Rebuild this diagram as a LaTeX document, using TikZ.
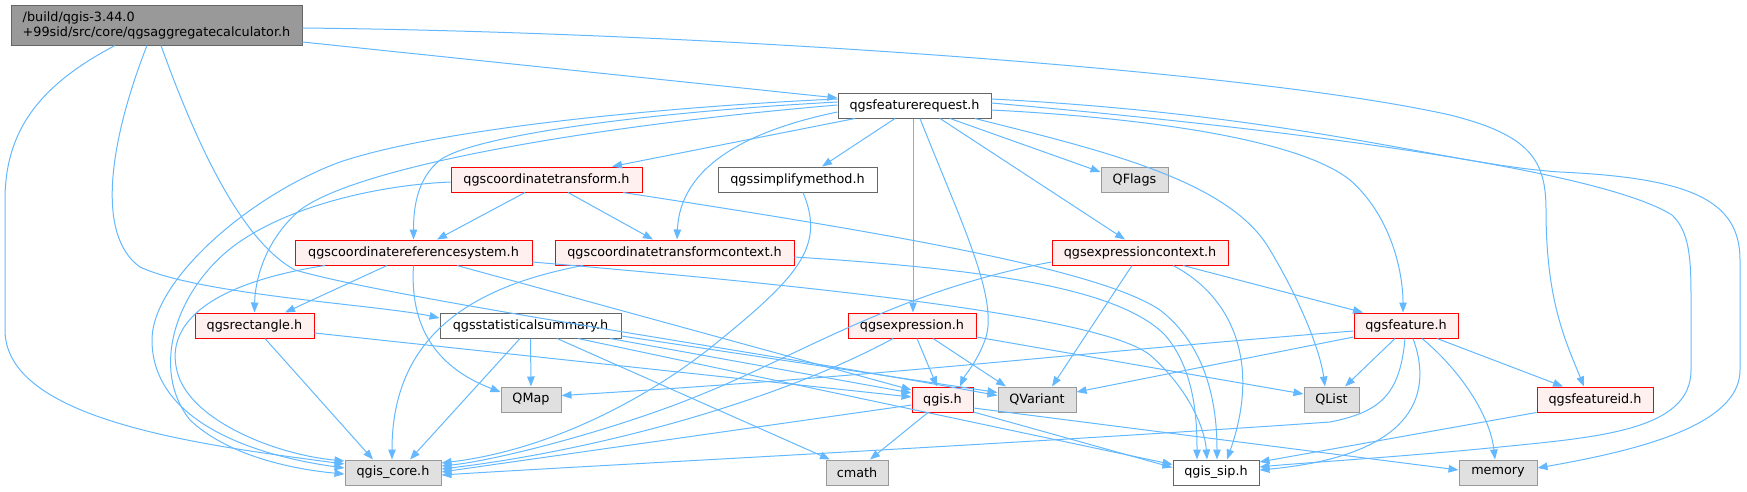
\documentclass[tikz,border=0pt]{standalone}
\usepackage{fontspec}
\setmainfont{DejaVu Sans}
\usetikzlibrary{arrows.meta}
\definecolor{edgec}{HTML}{63B8FF}
\definecolor{bordgray}{HTML}{666666}
\definecolor{extborder}{HTML}{999999}
\definecolor{extfill}{HTML}{E0E0E0}
\definecolor{redfill}{HTML}{FFF0F0}
\definecolor{rootfill}{HTML}{999999}
\tikzset{
  box/.style={draw, line width=1pt, minimum height=25pt, inner sep=0pt, font=\fontsize{12.8}{15}\selectfont, text=black},
  wnode/.style={box, draw=bordgray, fill=white},
  rnode/.style={box, draw=red, fill=redfill},
  gnode/.style={box, draw=extborder, fill=extfill},
  rootnode/.style={box, draw=bordgray, fill=rootfill, minimum height=40pt, align=left},
  edge/.style={draw=edgec, line width=1pt, -{Triangle[length=10pt,width=7.5pt]}}
}
\begin{document}
\begin{tikzpicture}[x=1pt,y=-1pt]
\useasboundingbox (0,0) rectangle (1747,491);
% nodes
\node[rootnode, minimum width=291pt] (root) at (156.5,25) {/build/qgis-3.44.0\\+99sid/src/core/qgsaggregatecalculator.h};
\node[wnode, minimum width=153pt] (freq) at (914.5,105.5) {qgsfeaturerequest.h};
\node[rnode, minimum width=191pt] (ctrans) at (546.5,179.5) {qgscoordinatetransform.h};
\node[wnode, minimum width=159pt] (simp) at (797.5,179.5) {qgssimplifymethod.h};
\node[gnode, minimum width=67pt] (qflags) at (1134.5,179.5) {QFlags};
\node[rnode, minimum width=237pt] (crs) at (413.5,252.5) {qgscoordinatereferencesystem.h};
\node[rnode, minimum width=239pt] (ctctx) at (674.5,252.5) {qgscoordinatetransformcontext.h};
\node[rnode, minimum width=176pt] (exctx) at (1140,252.5) {qgsexpressioncontext.h};
\node[rnode, minimum width=119pt] (rect) at (254.5,325.5) {qgsrectangle.h};
\node[wnode, minimum width=181pt] (stat) at (530.5,325.5) {qgsstatisticalsummary.h};
\node[rnode, minimum width=128pt] (expr) at (912,325.5) {qgsexpression.h};
\node[rnode, minimum width=104pt] (feat) at (1406,325.5) {qgsfeature.h};
\node[gnode, minimum width=60pt] (qmap) at (531,399.5) {QMap};
\node[rnode, minimum width=61pt] (qgis) at (942.5,399.5) {qgis.h};
\node[gnode, minimum width=78pt] (qvar) at (1037,399.5) {QVariant};
\node[gnode, minimum width=55pt] (qlist) at (1331.5,399.5) {QList};
\node[rnode, minimum width=116pt] (fid) at (1595,399.5) {qgsfeatureid.h};
\node[gnode, minimum width=96pt] (core) at (393,472.5) {qgis\_core.h};
\node[gnode, minimum width=62pt] (cmath) at (857,472.5) {cmath};
\node[wnode, minimum width=86pt] (sip) at (1216,472.5) {qgis\_sip.h};
\node[gnode, minimum width=78pt] (memory) at (1498,472.5) {memory};

% root edges
\draw[edge] ([yshift=-17pt]root.east) -- ([yshift=7.5pt]freq.west);
\draw[edge] ([yshift=-3pt]root.east) .. controls (700,32) and (1250,70) .. (1450,115) .. controls (1530,135) and (1546,160) .. (1546,210) .. controls (1546,300) and (1565,340) .. ([xshift=-11pt]fid.north);
\draw[edge] ([xshift=-41.5pt]root.south) .. controls (40,85) and (5,130) .. (5,200) -- (5,330) .. controls (5,420) and (200,445) .. ([yshift=8.5pt]core.west);
\draw[edge] ([xshift=-9.5pt]root.south) .. controls (110,140) and (95,235) .. (140,267) .. controls (200,295) and (380,305) .. ([yshift=7.5pt]stat.west);
\draw[edge] ([xshift=4.5pt]root.south) .. controls (195,140) and (240,240) .. (295,270) .. controls (400,300) and (750,350) .. ([yshift=4pt]qvar.west);

% qgsfeaturerequest.h edges
\draw[edge] ([yshift=6.5pt]freq.west) .. controls (700,105) and (450,125) .. (340,162) .. controls (250,195) and (152,280) .. (152,340) .. controls (152,420) and (250,455) .. ([yshift=4.5pt]core.west);
\draw[edge] ([yshift=3.5pt]freq.west) .. controls (650,112) and (475,135) .. (440,160) .. controls (418,178) and (413.5,205) .. (crs.north);
\draw[edge] ([yshift=0.5pt]freq.west) .. controls (600,125) and (360,165) .. (300,210) .. controls (265,240) and (255,280) .. (rect.north);
\draw[edge] ([xshift=-59.5pt]freq.south) -- ([xshift=65.5pt]ctrans.north);
\draw[edge] ([yshift=-6.5pt]freq.west) .. controls (750,130) and (680,165) .. ([xshift=2.5pt]ctctx.north);
\draw[edge] ([xshift=-19.5pt]freq.south) -- ([xshift=24.5pt]simp.north);
\draw[edge] ([xshift=-1.5pt]freq.south) -- ([xshift=1pt]expr.north);
\draw[edge] ([xshift=5.5pt]freq.south) .. controls (960,220) and (1000,300) .. (985,340) .. controls (977,362) and (965,375) .. ([xshift=17.5pt]qgis.north);
\draw[edge] ([xshift=35.5pt]freq.south) -- ([yshift=7.5pt]qflags.west);
\draw[edge] ([xshift=25.5pt]freq.south) -- ([xshift=-15pt]exctx.north);
\draw[edge] ([xshift=60.5pt]freq.south) .. controls (1100,150) and (1230,180) .. (1270,250) .. controls (1300,300) and (1320,350) .. ([xshift=-6.5pt]qlist.north);
\draw[edge] ([yshift=-4.5pt]freq.east) .. controls (1150,118) and (1300,140) .. (1350,180) .. controls (1390,215) and (1403,270) .. ([xshift=-3pt]feat.north);
\draw[edge] ([yshift=2.5pt]freq.east) .. controls (1300,130) and (1600,170) .. (1672,215) .. controls (1690,232) and (1691,260) .. (1691,300) -- (1691,370) .. controls (1691,430) and (1600,437) .. (1500,447) .. controls (1400,457) and (1300,463) .. ([yshift=5.5pt]sip.east);
\draw[edge] ([yshift=6.5pt]freq.east) .. controls (1300,115) and (1450,165) .. (1560,172) .. controls (1690,178) and (1740,200) .. (1740,260) -- (1740,370) .. controls (1740,425) and (1640,450) .. ([yshift=4.5pt]memory.east);

% qgscoordinatetransform.h edges
\draw[edge] ([xshift=-21.5pt]ctrans.south) -- ([xshift=23.5pt]crs.north);
\draw[edge] ([xshift=21.5pt]ctrans.south) -- ([xshift=-21.5pt]ctctx.north);
\draw[edge] ([yshift=-2.5pt]ctrans.west) .. controls (380,185) and (290,205) .. (235,245) .. controls (175,290) and (150,370) .. (190,420) .. controls (230,458) and (300,470) .. ([yshift=-1.5pt]core.west);
\draw[edge] ([xshift=76.5pt]ctrans.south) .. controls (900,235) and (1100,270) .. (1160,310) .. controls (1205,345) and (1217,400) .. ([xshift=1pt]sip.north);

% qgscoordinatereferencesystem.h edges
\draw[edge] ([xshift=-88.5pt]crs.south) .. controls (200,285) and (160,330) .. (180,380) .. controls (200,425) and (280,455) .. ([yshift=11.5pt]core.west);
\draw[edge] ([xshift=-26.5pt]crs.south) -- ([xshift=30.5pt]rect.north);
\draw[edge] (crs.south) .. controls (410,320) and (430,365) .. ([yshift=7.5pt]qmap.west);
\draw[edge] ([xshift=43.5pt]crs.south) -- ([yshift=9.5pt]qgis.west);
\draw[edge] ([yshift=-9.5pt]crs.east) .. controls (800,285) and (1100,315) .. (1150,355) .. controls (1190,390) and (1205,430) .. ([xshift=-9pt]sip.north);

% qgscoordinatetransformcontext.h edges
\draw[edge] ([xshift=-91.5pt]ctctx.south) .. controls (480,285) and (392,330) .. ([xshift=-1pt]core.north);
\draw[edge] ([yshift=-4.5pt]ctctx.east) .. controls (1000,270) and (1120,290) .. (1165,335) .. controls (1195,370) and (1197,420) .. ([xshift=-19pt]sip.north);

% qgsrectangle.h edges
\draw[edge] ([xshift=10.5pt]rect.south) -- ([xshift=-20pt]core.north);
\draw[edge] ([yshift=-7.5pt]rect.east) -- ([yshift=2.5pt]qgis.west);

% qgsstatisticalsummary.h edges
\draw[edge] ([xshift=-10.5pt]stat.south) -- ([xshift=17pt]core.north);
\draw[edge] (stat.south) -- (qmap.north);
\draw[edge] ([xshift=26.5pt]stat.south) -- ([xshift=-27pt]cmath.north);
\draw[edge] ([xshift=47.5pt]stat.south) -- ([yshift=8pt]sip.west);
\draw[edge] ([xshift=79.5pt]stat.south) -- ([yshift=6.5pt]qgis.west);
\draw[edge] ([yshift=-10.5pt]stat.east) -- ([yshift=7pt]qvar.west);

% qgsexpression.h edges
\draw[edge] ([xshift=-19pt]expr.south) .. controls (780,400) and (600,450) .. ([yshift=3.5pt]core.east);
\draw[edge] ([xshift=5pt]expr.south) -- ([xshift=-5.5pt]qgis.north);
\draw[edge] ([xshift=21pt]expr.south) -- ([xshift=-31pt]qvar.north);
\draw[edge] ([yshift=-11.5pt]expr.east) -- ([yshift=5.5pt]qlist.west);

% qgis.h edges
\draw[edge] ([yshift=-5.5pt]qgis.west) -- ([yshift=0.5pt]core.east);
\draw[edge] ([xshift=-14.5pt]qgis.south) -- ([xshift=13pt]cmath.north);
\draw[edge] ([yshift=-12.5pt]qgis.east) -- ([yshift=5pt]sip.west);
\draw[edge] ([yshift=-8.5pt]qgis.east) -- ([yshift=2.5pt]memory.west);

% qgsexpressioncontext.h edges
\draw[edge] ([yshift=-9.5pt]exctx.west) .. controls (900,290) and (800,355) .. (700,395) .. controls (620,428) and (500,460) .. ([yshift=6.5pt]core.east);
\draw[edge] ([xshift=-8pt]exctx.south) -- ([xshift=15pt]qvar.north);
\draw[edge] ([xshift=33pt]exctx.south) .. controls (1230,295) and (1262,360) .. ([xshift=11pt]sip.north);
\draw[edge] ([xshift=43pt]exctx.south) -- ([xshift=-43pt]feat.north);

% qgsfeature.h edges
\draw[edge] ([yshift=-5.5pt]feat.west) .. controls (1050,355) and (900,375) .. ([yshift=4pt]qmap.east);
\draw[edge] ([yshift=-11.5pt]feat.west) -- ([yshift=7.5pt]qvar.east);
\draw[edge] ([xshift=-1pt]feat.south) .. controls (1400,395) and (1380,412) .. (1330,422) .. controls (1000,445) and (600,465) .. ([yshift=-2.5pt]core.east);
\draw[edge] ([xshift=-11pt]feat.south) -- ([xshift=13.5pt]qlist.north);
\draw[edge] ([xshift=7pt]feat.south) .. controls (1432,390) and (1420,455) .. ([yshift=2.5pt]sip.east);
\draw[edge] ([xshift=16pt]feat.south) .. controls (1460,370) and (1490,415) .. ([xshift=-3pt]memory.north);
\draw[edge] ([xshift=31pt]feat.south) -- ([xshift=-32pt]fid.north);

% qgsfeatureid.h edge
\draw[edge] (fid.south west) -- ([yshift=10.5pt]sip.east);

% qgssimplifymethod.h edge
\draw[edge] ([xshift=5.5pt]simp.south) .. controls (825,245) and (800,275) .. (720,340) .. controls (650,398) and (550,450) .. ([yshift=9.5pt]core.east);
\end{tikzpicture}
\end{document}
